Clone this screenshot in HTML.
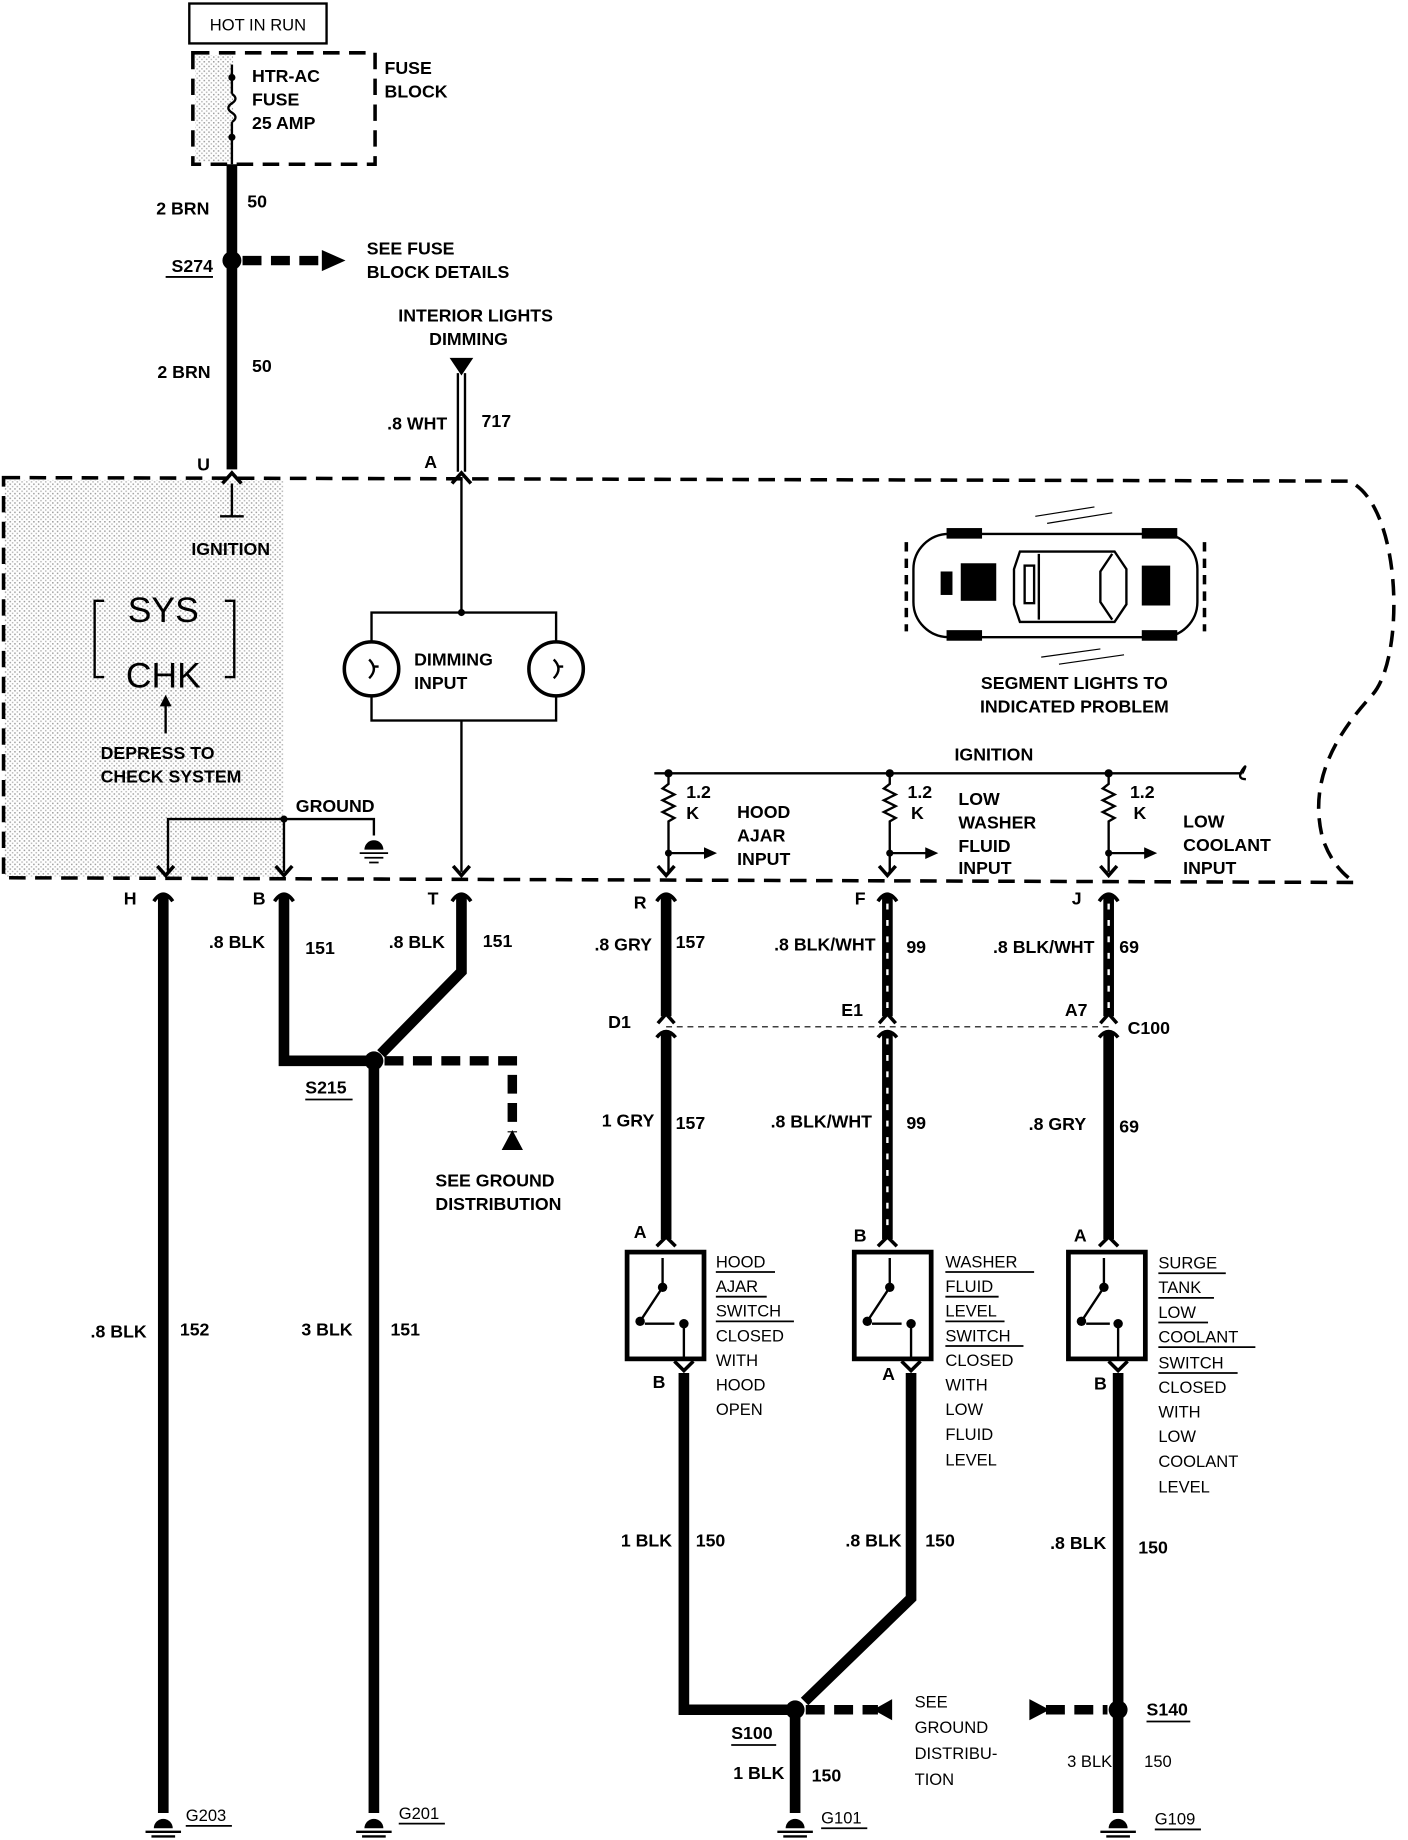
<!DOCTYPE html>
<html><head><meta charset="utf-8"><style>
html,body{margin:0;padding:0;background:#fff}
svg{display:block}
text{font-family:"Liberation Sans",Arial,sans-serif;font-weight:bold;font-size:15px;fill:#000}
.n{font-weight:normal;font-size:14px}
</style></head><body>
<svg width="1408" height="1840" viewBox="0 0 1190 1568" preserveAspectRatio="none" xmlns="http://www.w3.org/2000/svg">
<defs>
<pattern id="dots" width="4" height="4" patternUnits="userSpaceOnUse"><rect width="4" height="4" fill="#fff"/><rect x="0" y="0" width="1.3" height="1.3" fill="#888"/><rect x="2" y="2" width="1.3" height="1.3" fill="#aaa"/></pattern>
</defs>
<!-- stipple -->
<rect x="4" y="409" width="236" height="338" fill="url(#dots)" opacity="0.8"/>
<rect x="165" y="47" width="32" height="91" fill="url(#dots)" opacity="0.8"/>

<!-- HOT IN RUN -->
<rect x="160" y="3" width="116" height="34" fill="none" stroke="#000" stroke-width="2"/>
<text x="218" y="26" text-anchor="middle" class="n">HOT IN RUN</text>
<rect x="163" y="45" width="154" height="95" fill="none" stroke="#000" stroke-width="3" stroke-dasharray="14 8"/>
<line x1="196" y1="55" x2="196" y2="80" stroke="#000" stroke-width="2"/>
<path d="M196 80 q6 4 0 8 q-6 4 0 8 q6 4 0 8" fill="none" stroke="#000" stroke-width="2"/>
<line x1="196" y1="104" x2="196" y2="140" stroke="#000" stroke-width="2"/>
<circle cx="196" cy="66" r="3"/><circle cx="196" cy="117" r="3"/>
<text x="213" y="70">HTR-AC</text><text x="213" y="90">FUSE</text><text x="213" y="110">25 AMP</text>
<text x="325" y="63">FUSE</text><text x="325" y="83">BLOCK</text>

<!-- main feed -->
<line x1="196" y1="140" x2="196" y2="400" stroke="#000" stroke-width="9"/>
<text x="177" y="183" text-anchor="end">2 BRN</text><text x="209" y="177">50</text>
<circle cx="196" cy="222" r="8"/>
<text x="180" y="232" text-anchor="end">S274</text><line x1="140" y1="236" x2="180" y2="236" stroke="#000" stroke-width="1.5"/>
<line x1="205" y1="222" x2="275" y2="222" stroke="#000" stroke-width="8" stroke-dasharray="16 8"/>
<polygon points="272,213 292,222 272,231"/>
<text x="310" y="217">SEE FUSE</text><text x="310" y="237">BLOCK DETAILS</text>
<text x="178" y="322" text-anchor="end">2 BRN</text><text x="213" y="317">50</text>
<text x="172" y="401" text-anchor="middle">U</text>
<path d="M188 412 L196 403 L204 412" fill="none" stroke="#000" stroke-width="3"/>
<line x1="196" y1="412" x2="196" y2="440" stroke="#000" stroke-width="2"/>
<line x1="186" y1="440" x2="206" y2="440" stroke="#000" stroke-width="2"/>
<text x="195" y="473" text-anchor="middle">IGNITION</text>

<!-- interior lights -->
<text x="402" y="274" text-anchor="middle">INTERIOR LIGHTS</text>
<text x="396" y="294" text-anchor="middle">DIMMING</text>
<polygon points="380,305 400,305 390,320"/>
<line x1="387" y1="318" x2="387" y2="402" stroke="#000" stroke-width="2"/>
<line x1="393" y1="318" x2="393" y2="402" stroke="#000" stroke-width="2"/>
<text x="378" y="366" text-anchor="end">.8 WHT</text><text x="407" y="364">717</text>
<text x="364" y="399" text-anchor="middle">A</text>
<path d="M382 412 L390 403 L398 412" fill="none" stroke="#000" stroke-width="3"/>
<line x1="390" y1="408" x2="390" y2="522" stroke="#000" stroke-width="2"/>
<rect x="314" y="522" width="156" height="92" fill="none" stroke="#000" stroke-width="2"/>
<circle cx="390" cy="522" r="3"/>
<circle cx="314" cy="570" r="23" fill="#fff" stroke="#000" stroke-width="3"/>
<circle cx="470" cy="570" r="23" fill="#fff" stroke="#000" stroke-width="3"/>
<path d="M312 562 q8 8 0 16 M316 568 h4" fill="none" stroke="#000" stroke-width="2"/>
<path d="M468 562 q8 8 0 16 M472 568 h4" fill="none" stroke="#000" stroke-width="2"/>
<text x="350" y="567">DIMMING</text><text x="350" y="587">INPUT</text>
<line x1="390" y1="614" x2="390" y2="743" stroke="#000" stroke-width="2"/>

<!-- big dashed box -->
<path d="M3 407 L1140 410 C1185 430 1188 560 1160 592 C1130 625 1105 665 1118 715 C1125 735 1135 745 1145 752 L3 748 Z" fill="none" stroke="#000" stroke-width="3" stroke-dasharray="14 8"/>

<!-- SYS CHK -->
<path d="M88 512 h-8 v65 h8 M190 512 h8 v65 h-8" fill="none" stroke="#000" stroke-width="2"/>
<text x="138" y="530" text-anchor="middle" style="font-weight:normal;font-size:30px">SYS</text>
<text x="138" y="586" text-anchor="middle" style="font-weight:normal;font-size:30px">CHK</text>
<line x1="140" y1="625" x2="140" y2="600" stroke="#000" stroke-width="2"/>
<polygon points="135,602 140,592 145,602"/>
<text x="85" y="647">DEPRESS TO</text><text x="85" y="667">CHECK SYSTEM</text>

<!-- ground internal -->
<text x="250" y="692">GROUND</text>
<path d="M142 743 V698 H316 V712" fill="none" stroke="#000" stroke-width="2"/>
<line x1="240" y1="698" x2="240" y2="743" stroke="#000" stroke-width="2"/>
<circle cx="240" cy="698" r="3"/>
<path d="M308 724 a8 8 0 0 1 16 0 z"/>
<path d="M304 727 h24 M308 731 h16 M312 735 h8" stroke="#000" stroke-width="1.5"/>

<!-- car icon -->
<rect x="772" y="455" width="240" height="88" rx="30" fill="none" stroke="#000" stroke-width="2"/>
<path d="M766 462 v76 M1018 462 v76" stroke="#000" stroke-width="3" stroke-dasharray="8 6"/>
<rect x="800" y="450" width="30" height="9"/><rect x="965" y="450" width="30" height="9"/>
<rect x="800" y="537" width="30" height="9"/><rect x="965" y="537" width="30" height="9"/>
<rect x="795" y="487" width="10" height="20"/><rect x="812" y="480" width="30" height="32"/>
<rect x="965" y="482" width="24" height="34"/>
<path d="M862 470 h80 l10 15 v30 l-10 15 h-80 l-5 -15 v-30 z M878 472 v56 M940 472 l-10 15 v26 l10 15" fill="none" stroke="#000" stroke-width="2"/>
<rect x="866" y="482" width="8" height="32" fill="none" stroke="#000" stroke-width="2"/>
<path d="M875 440 L925 432 M885 446 L940 437 M880 560 L930 553 M895 566 L950 558" stroke="#000" stroke-width="1"/>
<text x="908" y="587" text-anchor="middle">SEGMENT LIGHTS TO</text>
<text x="908" y="607" text-anchor="middle">INDICATED PROBLEM</text>

<!-- ignition bus -->
<text x="840" y="648" text-anchor="middle">IGNITION</text>
<line x1="553" y1="659" x2="1050" y2="659" stroke="#000" stroke-width="2"/>
<path d="M1050 659 q5 -10 0 -3 q-5 8 3 8" fill="none" stroke="#000" stroke-width="2"/>
<g stroke="#000" stroke-width="2" fill="none">
<path d="M565 659 V668 l-5 4 l10 5 l-10 5 l10 5 l-10 5 l10 5 l-5 3 V743"/>
<path d="M752 659 V668 l-5 4 l10 5 l-10 5 l10 5 l-10 5 l10 5 l-5 3 V743"/>
<path d="M937 659 V668 l-5 4 l10 5 l-10 5 l10 5 l-10 5 l10 5 l-5 3 V743"/>
<path d="M565 727 H596 M752 727 H783 M937 727 H968"/>
</g>
<circle cx="565" cy="659" r="3.5"/><circle cx="752" cy="659" r="3.5"/><circle cx="937" cy="659" r="3.5"/>
<circle cx="565" cy="727" r="3"/><circle cx="752" cy="727" r="3"/><circle cx="937" cy="727" r="3"/>
<polygon points="595,722 606,727 595,732"/><polygon points="782,722 793,727 782,732"/><polygon points="967,722 978,727 967,732"/>
<text x="580" y="680">1.2</text><text x="580" y="698">K</text>
<text x="767" y="680">1.2</text><text x="770" y="698">K</text>
<text x="955" y="680">1.2</text><text x="958" y="698">K</text>
<text x="623" y="697">HOOD</text><text x="623" y="717">AJAR</text><text x="623" y="737">INPUT</text>
<text x="810" y="686">LOW</text><text x="810" y="706">WASHER</text><text x="810" y="726">FLUID</text><text x="810" y="745">INPUT</text>
<text x="1000" y="705">LOW</text><text x="1000" y="725">COOLANT</text><text x="1000" y="745">INPUT</text>

<!-- bottom connectors -->
<g fill="none" stroke="#000" stroke-width="3">
<path d="M133 738 L140 746 L147 738"/><path d="M233 738 L240 746 L247 738"/><path d="M383 738 L390 746 L397 738"/>
<path d="M556 738 L563 746 L570 738"/><path d="M743 738 L750 746 L757 738"/><path d="M930 738 L937 746 L944 738"/>
<path d="M130 768 Q138 756 146 768"/><path d="M232 768 Q240 756 248 768"/><path d="M382 768 Q390 756 398 768"/>
<path d="M555 768 Q563 756 571 768"/><path d="M742 768 Q750 756 758 768"/><path d="M929 768 Q937 756 945 768"/>
</g>
<text x="110" y="771" text-anchor="middle">H</text><text x="219" y="771" text-anchor="middle">B</text><text x="366" y="771" text-anchor="middle">T</text>
<text x="541" y="774" text-anchor="middle">R</text><text x="727" y="771" text-anchor="middle">F</text><text x="910" y="771" text-anchor="middle">J</text>

<!-- left wires -->
<g stroke="#000" stroke-width="9" fill="none">
<line x1="138" y1="762" x2="138" y2="1545"/>
<path d="M240 762 V904 H316"/>
<path d="M390 762 V828 L322 898"/>
<line x1="316" y1="904" x2="316" y2="1545"/>
</g>
<text x="224" y="808" text-anchor="end">.8 BLK</text><text x="258" y="813">151</text>
<text x="376" y="808" text-anchor="end">.8 BLK</text><text x="408" y="807">151</text>
<circle cx="316" cy="904" r="8"/>
<text x="258" y="932">S215</text><line x1="258" y1="937" x2="298" y2="937" stroke="#000" stroke-width="1.5"/>
<path d="M325 904 H433 V965" fill="none" stroke="#000" stroke-width="8" stroke-dasharray="16 8"/>
<polygon points="433,963 424,980 442,980"/>
<text x="368" y="1011">SEE GROUND</text><text x="368" y="1031">DISTRIBUTION</text>
<text x="124" y="1140" text-anchor="end">.8 BLK</text><text x="152" y="1138">152</text>
<text x="298" y="1138" text-anchor="end">3 BLK</text><text x="330" y="1138">151</text>

<!-- right column wires -->
<g stroke="#000" stroke-width="9" fill="none">
<line x1="563" y1="762" x2="563" y2="866"/><line x1="563" y1="880" x2="563" y2="1056"/>
<line x1="750" y1="762" x2="750" y2="866"/><line x1="750" y1="880" x2="750" y2="1056"/>
<line x1="937" y1="762" x2="937" y2="866"/><line x1="937" y1="880" x2="937" y2="1056"/>
<path d="M578 1170 V1457 H672"/>
<path d="M770 1170 V1362 L680 1450"/>
<line x1="945" y1="1170" x2="945" y2="1545"/>
<line x1="672" y1="1457" x2="672" y2="1545"/>
</g>
<g stroke="#fff" stroke-width="2" stroke-dasharray="5 9">
<line x1="750" y1="770" x2="750" y2="866"/><line x1="750" y1="885" x2="750" y2="1050"/>
<line x1="937" y1="770" x2="937" y2="866"/>
</g>
<!-- C100 -->
<line x1="563" y1="875" x2="937" y2="875" stroke="#000" stroke-width="1" stroke-dasharray="5 4"/>
<g fill="none" stroke="#000" stroke-width="3">
<path d="M556 872 L563 864 L570 872"/><path d="M743 872 L750 864 L757 872"/><path d="M930 872 L937 864 L944 872"/>
<path d="M555 884 Q563 874 571 884"/><path d="M742 884 Q750 874 758 884"/><path d="M929 884 Q937 874 945 884"/>
</g>
<text x="551" y="810" text-anchor="end">.8 GRY</text><text x="571" y="808">157</text>
<text x="740" y="810" text-anchor="end">.8 BLK/WHT</text><text x="766" y="812">99</text>
<text x="925" y="812" text-anchor="end">.8 BLK/WHT</text><text x="946" y="812">69</text>
<text x="514" y="876">D1</text><text x="711" y="866">E1</text><text x="900" y="866">A7</text><text x="953" y="881">C100</text>
<text x="553" y="960" text-anchor="end">1 GRY</text><text x="571" y="962">157</text>
<text x="737" y="961" text-anchor="end">.8 BLK/WHT</text><text x="766" y="962">99</text>
<text x="918" y="963" text-anchor="end">.8 GRY</text><text x="946" y="965">69</text>

<!-- switches -->
<g fill="none" stroke="#000" stroke-width="3">
<path d="M555 1062 L563 1054 L571 1062"/><path d="M742 1062 L750 1054 L758 1062"/><path d="M929 1062 L937 1054 L945 1062"/>
<rect x="530" y="1067" width="65" height="91" stroke-width="4"/>
<rect x="722" y="1067" width="65" height="91" stroke-width="4"/>
<rect x="903" y="1067" width="65" height="91" stroke-width="4"/>
<path d="M570 1160 L578 1168 L586 1160"/><path d="M762 1160 L770 1168 L778 1160"/><path d="M937 1160 L945 1168 L953 1160"/>
</g>
<g stroke="#000" stroke-width="2" fill="none">
<path d="M560 1072 V1097 L541 1126 M578 1128 V1158 M545 1128 h25"/>
<path d="M752 1072 V1097 L733 1126 M770 1128 V1158 M737 1128 h25" />
<path d="M933 1072 V1097 L914 1126 M945 1128 V1158 M918 1128 h20"/>
</g>
<circle cx="560" cy="1097" r="4"/><circle cx="541" cy="1126" r="4"/><circle cx="578" cy="1128" r="4"/>
<circle cx="752" cy="1097" r="4"/><circle cx="733" cy="1126" r="4"/><circle cx="770" cy="1128" r="4"/>
<circle cx="933" cy="1097" r="4"/><circle cx="914" cy="1126" r="4"/><circle cx="945" cy="1128" r="4"/>
<text x="541" y="1055" text-anchor="middle">A</text><text x="727" y="1058" text-anchor="middle">B</text><text x="913" y="1058" text-anchor="middle">A</text>
<text x="557" y="1183" text-anchor="middle">B</text><text x="751" y="1176" text-anchor="middle">A</text><text x="930" y="1184" text-anchor="middle">B</text>
<g class="n">
<text class="n" x="605" y="1080">HOOD</text><text class="n" x="605" y="1101">AJAR</text><text class="n" x="605" y="1122">SWITCH</text><text class="n" x="605" y="1143">CLOSED</text><text class="n" x="605" y="1164">WITH</text><text class="n" x="605" y="1185">HOOD</text><text class="n" x="605" y="1206">OPEN</text>
<text class="n" x="799" y="1080">WASHER</text><text class="n" x="799" y="1101">FLUID</text><text class="n" x="799" y="1122">LEVEL</text><text class="n" x="799" y="1143">SWITCH</text><text class="n" x="799" y="1164">CLOSED</text><text class="n" x="799" y="1185">WITH</text><text class="n" x="799" y="1206">LOW</text><text class="n" x="799" y="1227">FLUID</text><text class="n" x="799" y="1249">LEVEL</text>
<text class="n" x="979" y="1081">SURGE</text><text class="n" x="979" y="1102">TANK</text><text class="n" x="979" y="1123">LOW</text><text class="n" x="979" y="1144">COOLANT</text><text class="n" x="979" y="1166">SWITCH</text><text class="n" x="979" y="1187">CLOSED</text><text class="n" x="979" y="1208">WITH</text><text class="n" x="979" y="1229">LOW</text><text class="n" x="979" y="1250">COOLANT</text><text class="n" x="979" y="1272">LEVEL</text>
</g>
<g stroke="#000" stroke-width="1.5">
<path d="M605 1084 h50 M605 1105 h43 M605 1126 h66"/>
<path d="M799 1084 h75 M799 1105 h45 M799 1126 h50 M799 1147 h66"/>
<path d="M979 1085 h57 M979 1106 h47 M979 1127 h42 M979 1148 h82 M979 1170 h67"/>
</g>
<text x="568" y="1318" text-anchor="end">1 BLK</text><text x="588" y="1318">150</text>
<text x="762" y="1318" text-anchor="end">.8 BLK</text><text x="782" y="1318">150</text>
<text x="935" y="1320" text-anchor="end">.8 BLK</text><text x="962" y="1324">150</text>

<!-- S100 / S140 -->
<circle cx="672" cy="1457" r="8"/><circle cx="945" cy="1457" r="8"/>
<text x="618" y="1482">S100</text><line x1="618" y1="1487" x2="656" y2="1487" stroke="#000" stroke-width="1.5"/>
<text x="969" y="1462">S140</text><line x1="969" y1="1467" x2="1006" y2="1467" stroke="#000" stroke-width="1.5"/>
<line x1="681" y1="1457" x2="742" y2="1457" stroke="#000" stroke-width="8" stroke-dasharray="16 8"/>
<polygon points="738,1457 754,1448 754,1466"/>
<line x1="884" y1="1457" x2="936" y2="1457" stroke="#000" stroke-width="8" stroke-dasharray="16 8"/>
<polygon points="887,1457 870,1448 870,1466"/>
<text class="n" x="773" y="1455">SEE</text><text class="n" x="773" y="1477">GROUND</text><text class="n" x="773" y="1499">DISTRIBU-</text><text class="n" x="773" y="1521">TION</text>
<text x="663" y="1516" text-anchor="end">1 BLK</text><text x="686" y="1518">150</text>
<text class="n" x="940" y="1506" text-anchor="end">3 BLK</text><text class="n" x="967" y="1506">150</text>

<!-- grounds -->
<g>
<path d="M130 1558 a8 8 0 0 1 16 0 z"/><path d="M123 1561 h30 M128 1565 h20" stroke="#000" stroke-width="2"/>
<path d="M308 1558 a8 8 0 0 1 16 0 z"/><path d="M301 1561 h30 M306 1565 h20" stroke="#000" stroke-width="2"/>
<path d="M664 1558 a8 8 0 0 1 16 0 z"/><path d="M657 1561 h30 M662 1565 h20" stroke="#000" stroke-width="2"/>
<path d="M937 1558 a8 8 0 0 1 16 0 z"/><path d="M930 1561 h30 M935 1565 h20" stroke="#000" stroke-width="2"/>
</g>
<text class="n" x="157" y="1552">G203</text><line x1="157" y1="1556" x2="196" y2="1556" stroke="#000" stroke-width="1.5"/>
<text class="n" x="337" y="1550">G201</text><line x1="337" y1="1554" x2="376" y2="1554" stroke="#000" stroke-width="1.5"/>
<text class="n" x="694" y="1554">G101</text><line x1="694" y1="1558" x2="733" y2="1558" stroke="#000" stroke-width="1.5"/>
<text class="n" x="976" y="1555">G109</text><line x1="976" y1="1559" x2="1015" y2="1559" stroke="#000" stroke-width="1.5"/>
</svg>
</body></html>
